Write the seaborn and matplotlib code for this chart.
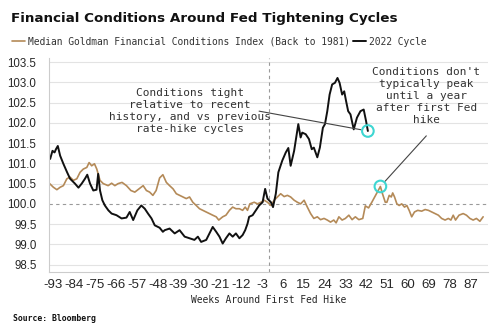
import numpy as np
import pandas as pd
import matplotlib
matplotlib.use("Agg")
import matplotlib.pyplot as plt
import seaborn as sns

# ---- data ----
cycle_weeks = [-94.3, -93.3, -92.4, -91.8, -91.0, -90.0, -88.6, -87.0, -85.7, -83.6, -82.1, -80.7,
               -79.3, -78.3, -77.1, -75.7, -74.3, -73.6, -72.8, -71.8, -70.7, -69.2, -67.8, -65.7,
               -63.5, -61.4, -60.0, -58.5, -56.7, -55.0, -53.5, -52.1, -50.6, -49.2, -47.1, -45.7,
               -44.9, -42.8, -40.6, -38.5, -36.3, -34.2, -32.1, -30.6, -29.2, -27.0, -25.6, -24.2,
               -22.7, -21.3, -19.9, -18.5, -17.0, -15.6, -14.2, -12.7, -11.3, -10.2, -9.2, -8.5,
               -7.0, -5.6, -4.2, -2.7, -1.6, -0.6, 0.9, 1.8, 3.0, 4.1, 5.8, 7.3, 8.4, 9.4, 10.9,
               11.8, 12.7, 13.7, 14.4, 15.9, 17.3, 18.5, 19.4, 20.9, 22.0, 23.3, 24.2, 25.2, 26.2,
               27.3, 28.5, 29.6, 30.5, 31.6, 32.5, 33.3, 34.2, 35.2, 36.6, 38.0, 39.5, 40.9, 41.9, 42.7]
cycle_values = [101.11, 101.31, 101.27, 101.35, 101.43, 101.19, 100.99, 100.78, 100.62, 100.50, 100.40, 100.50,
                100.62, 100.72, 100.50, 100.33, 100.35, 100.74, 100.33, 100.09, 99.96, 99.84, 99.76, 99.72,
                99.64, 99.66, 99.80, 99.60, 99.84, 99.96, 99.88, 99.76, 99.64, 99.47, 99.41, 99.31,
                99.35, 99.39, 99.27, 99.35, 99.19, 99.15, 99.11, 99.19, 99.06, 99.11, 99.27, 99.43,
                99.31, 99.19, 99.02, 99.15, 99.27, 99.19, 99.27, 99.15, 99.23, 99.35, 99.51, 99.68,
                99.72, 99.84, 99.96, 100.04, 100.37, 100.13, 100.04, 99.92, 100.25, 100.78, 101.07, 101.27,
                101.38, 100.94, 101.31, 101.64, 101.97, 101.64, 101.76, 101.72, 101.60, 101.35, 101.39,
                101.15, 101.39, 101.88, 101.97, 102.29, 102.70, 102.95, 102.99, 103.11, 102.99, 102.70,
                102.78, 102.54, 102.29, 102.21, 101.84, 102.13, 102.29, 102.33, 102.05, 101.80]

median_weeks = [-94.7, -92.9, -91.4, -90.0, -88.6, -87.1, -85.7, -84.3, -82.8, -81.4, -80.0, -78.5,
                -77.5, -76.4, -75.2, -74.2, -72.8, -71.4, -69.3, -67.8, -66.4, -65.0, -63.3, -61.4,
                -59.5, -57.8, -56.0, -54.2, -52.8, -51.4, -50.0, -48.6, -47.1, -45.7, -44.2, -42.8,
                -41.3, -39.9, -38.5, -37.1, -35.6, -34.2, -32.8, -31.3, -29.9, -28.5, -27.0, -25.6,
                -24.2, -22.7, -21.6, -19.9, -18.5, -17.0, -15.6, -14.2, -12.7, -11.3, -10.2, -9.2,
                -8.2, -6.3, -4.9, -3.4, -2.0, -0.6, 0.9, 2.3, 3.7, 5.1, 6.6, 8.0, 9.4, 10.9, 12.3,
                13.7, 15.2, 16.6, 18.0, 19.4, 20.9, 22.3, 23.8, 25.2, 26.6, 28.0, 29.0, 30.2, 31.6,
                33.0, 34.5, 35.9, 37.3, 38.8, 40.5, 41.6, 43.0, 44.5, 45.9, 47.0, 48.1, 49.0, 50.2,
                50.9, 51.9, 52.8, 53.4, 54.2, 55.2, 56.2, 57.3, 58.5, 59.5, 60.5, 61.6, 62.8, 64.2,
                65.9, 67.4, 68.8, 70.2, 71.7, 73.1, 74.5, 76.0, 77.4, 78.5, 79.5, 80.5, 82.0, 83.8,
                85.2, 86.7, 88.1, 89.5, 91.0, 92.4]
median_values = [100.51, 100.41, 100.35, 100.41, 100.45, 100.62, 100.66, 100.58, 100.62, 100.78, 100.86, 100.90,
                 101.02, 100.94, 100.99, 100.86, 100.58, 100.50, 100.45, 100.51, 100.45, 100.50, 100.53, 100.45,
                 100.33, 100.29, 100.37, 100.45, 100.33, 100.29, 100.21, 100.33, 100.64, 100.72, 100.53, 100.45,
                 100.37, 100.25, 100.21, 100.17, 100.13, 100.17, 100.04, 99.96, 99.88, 99.84, 99.80, 99.76,
                 99.72, 99.68, 99.60, 99.68, 99.72, 99.84, 99.92, 99.88, 99.88, 99.84, 99.92, 99.84,
                 100.00, 100.04, 100.00, 100.04, 100.09, 100.04, 99.96, 100.09, 100.17, 100.25, 100.18, 100.21,
                 100.17, 100.09, 100.04, 100.00, 100.09, 99.92, 99.76, 99.64, 99.68, 99.61, 99.64, 99.60,
                 99.55, 99.60, 99.53, 99.68, 99.60, 99.64, 99.72, 99.61, 99.68, 99.61, 99.64, 99.95,
                 99.90, 100.05, 100.20, 100.32, 100.43, 100.25, 100.04, 100.04, 100.21, 100.17, 100.27, 100.17,
                 100.00, 99.96, 100.00, 99.92, 99.96, 99.84, 99.68, 99.80, 99.84, 99.82, 99.86, 99.84,
                 99.80, 99.76, 99.72, 99.64, 99.60, 99.64, 99.60, 99.72, 99.60, 99.72, 99.76, 99.72,
                 99.64, 99.60, 99.64, 99.57, 99.68]

x_ticks = list(range(-93, 88, 9))
y_ticks = [98.5, 99.0, 99.5, 100.0, 100.5, 101.0, 101.5, 102.0, 102.5, 103.0, 103.5]

median_label = "Median Goldman Financial Conditions Index (Back to 1981)"
cycle_label = "2022 Cycle"
title = "Financial Conditions Around Fed Tightening Cycles"
xlabel = "Weeks Around First Fed Hike"
source = "Source: Bloomberg"
note1 = "Conditions tight\nrelative to recent\nhistory, and vs previous\nrate-hike cycles"
note2 = "Conditions don't\ntypically peak\nuntil a year\nafter first Fed\nhike"

# ---- style ----
sns.set_theme(style="white")
TAN = "#b48a58"
CYAN = "#3ed6d2"
MONO = "DejaVu Sans Mono"
TICKF = ["Liberation Sans", "DejaVu Sans"]

fig = plt.figure(figsize=(5.0, 3.34), dpi=100)
ax = fig.add_axes([0.098, 0.186, 0.878, 0.640])

df_med = pd.DataFrame({"week": median_weeks, "value": median_values})
df_cyc = pd.DataFrame({"week": cycle_weeks, "value": cycle_values})

for y in y_ticks:
    if y != 100.0:
        ax.axhline(y, color="#e3e3e3", lw=0.8, zorder=0)
ax.axhline(100.0, color="#9a9a9a", lw=0.8, ls=(0, (3, 3)), zorder=0)
ax.axvline(0, color="#9a9a9a", lw=0.8, ls=(0, (3, 3)), zorder=0)

sns.lineplot(data=df_med, x="week", y="value", ax=ax, color=TAN, lw=1.2,
             estimator=None, sort=False, label=median_label)
sns.lineplot(data=df_cyc, x="week", y="value", ax=ax, color="#111111", lw=1.4,
             estimator=None, sort=False, label=cycle_label)

# highlight circles
end_x, end_y = cycle_weeks[-1], cycle_values[-1]
post = [(w, v) for w, v in zip(median_weeks, median_values) if w > 0]
pk_x, pk_y = max(post, key=lambda t: t[1])
ax.scatter([end_x, pk_x], [end_y, pk_y], s=70, facecolors="none",
           edgecolors=CYAN, linewidths=1.5, zorder=5)

ax.annotate("", xy=(end_x, end_y), xytext=(-4.2, 102.29),
            arrowprops=dict(arrowstyle="-", color="#444444", lw=0.8, shrinkA=0, shrinkB=5))
ax.annotate("", xy=(pk_x, pk_y), xytext=(67.9, 101.68),
            arrowprops=dict(arrowstyle="-", color="#444444", lw=0.8, shrinkA=0, shrinkB=5))
ax.text(-34.2, 102.29, note1, ha="center", va="center", family=MONO, fontsize=8,
        color="#333333", linespacing=1.25)
ax.text(67.9, 102.66, note2, ha="center", va="center", family=MONO, fontsize=8,
        color="#333333", linespacing=1.25)

ax.set_xlim(-94.8, 94.5)
ax.set_ylim(98.32, 103.6)
ax.set_xticks(x_ticks)
ax.set_xticklabels([str(t) for t in x_ticks], family=TICKF, fontsize=9.5)
ax.set_yticks(y_ticks)
ax.set_yticklabels([f"{t:.1f}" for t in y_ticks], family=TICKF, fontsize=8.3)
ax.tick_params(axis="x", length=3, color="#bbbbbb", pad=2)
ax.tick_params(axis="y", length=0, pad=9)
ax.set_xlabel(xlabel, family=MONO, fontsize=6.9, labelpad=3)
ax.set_ylabel("")
for s in ["top", "right"]:
    ax.spines[s].set_visible(False)
for s in ["left", "bottom"]:
    ax.spines[s].set_color("#cccccc")
    ax.spines[s].set_linewidth(0.8)

leg = ax.legend(loc="lower left", bbox_to_anchor=(-0.088, 1.045), ncol=2, frameon=False,
                prop={"family": MONO, "size": 6.9}, handlelength=1.3, handletextpad=0.3,
                columnspacing=0.4, borderaxespad=0.1, borderpad=0.1)
for t in leg.get_texts():
    t.set_color("#333333")

fig.text(0.022, 0.945, title, fontsize=9.7, fontweight="bold", color="#111111", va="center")
fig.text(0.026, 0.045, source, family=MONO, fontsize=5.9, fontweight="bold", color="#111111", va="center")

fig.savefig("out.png", dpi=100)
